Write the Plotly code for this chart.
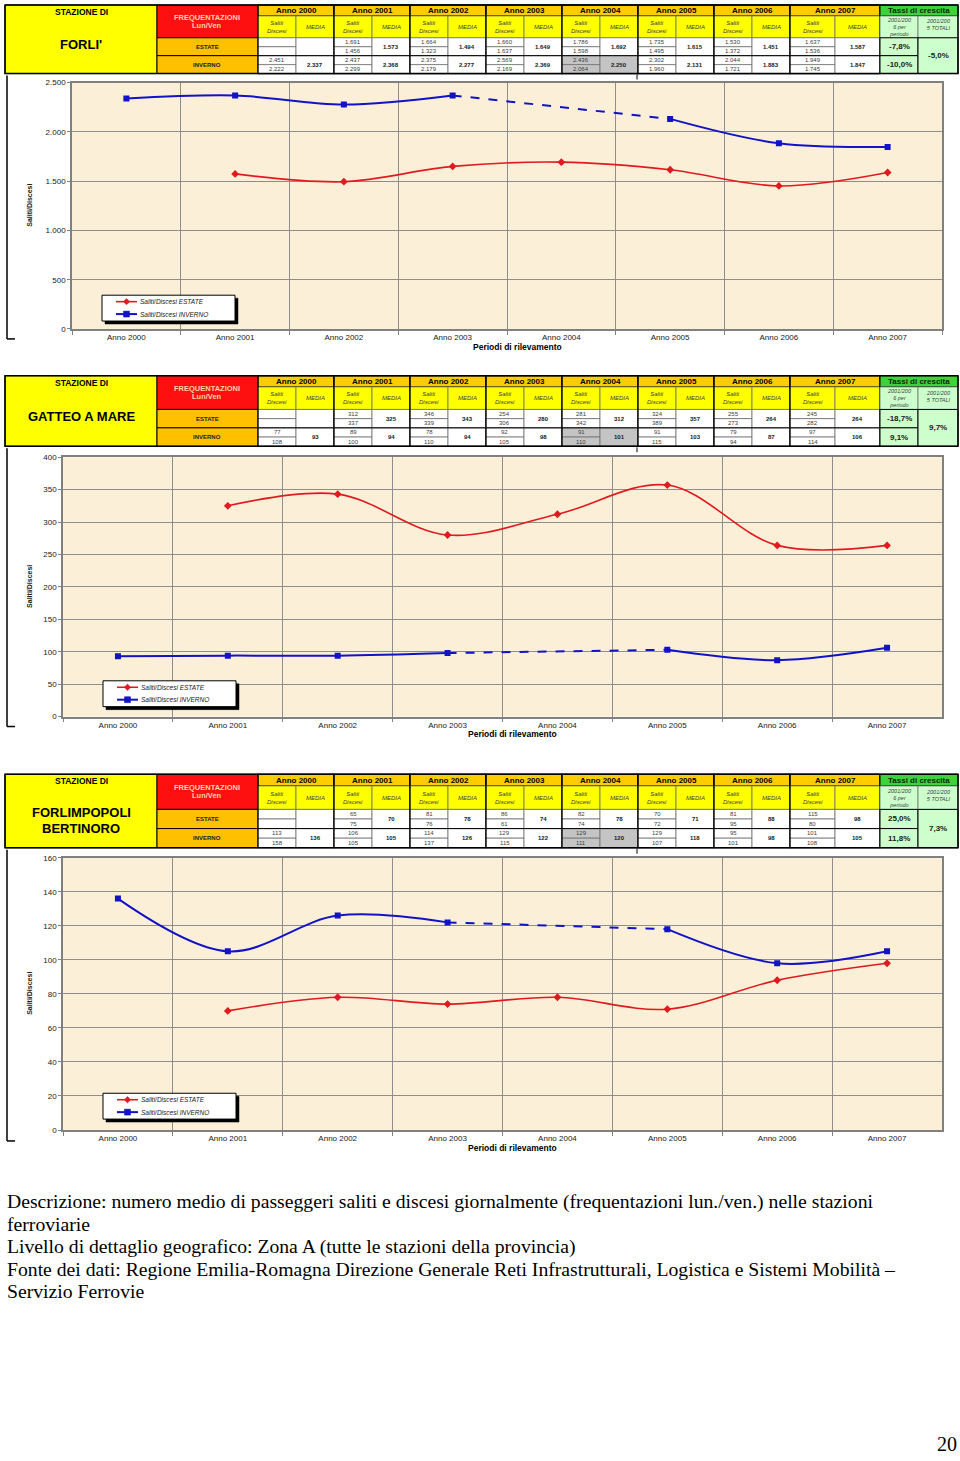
import plotly.graph_objects as go

W, H = 960, 1461
SANS = "Liberation Sans, Arial, sans-serif"
SERIF = "Liberation Serif, Times New Roman, serif"

YEARS = ["Anno 2000", "Anno 2001", "Anno 2002", "Anno 2003",
         "Anno 2004", "Anno 2005", "Anno 2006", "Anno 2007"]
SERIES_NAMES = ["Saliti/Discesi ESTATE", "Saliti/Discesi INVERNO"]
INV_ESCLUSO = "Anno 2004"  # grey cells in the table, left out of the chart

# ---- FORLI' ----
FORLI_EST_1 = [None, 1691, 1664, 1660, 1786, 1735, 1530, 1637]
FORLI_EST_2 = [None, 1456, 1323, 1637, 1598, 1495, 1372, 1536]
FORLI_EST_MEDIA = [None, 1573, 1494, 1649, 1692, 1615, 1451, 1587]
FORLI_INV_1 = [2451, 2437, 2375, 2569, 2436, 2302, 2044, 1949]
FORLI_INV_2 = [2222, 2299, 2179, 2169, 2064, 1960, 1721, 1745]
FORLI_INV_MEDIA = [2337, 2368, 2277, 2369, 2250, 2131, 1883, 1847]
FORLI_TASSI = ["-7,8%", "-10,0%", "-5,0%"]

# ---- GATTEO A MARE ----
GATTEO_EST_1 = [None, 312, 346, 254, 281, 324, 255, 245]
GATTEO_EST_2 = [None, 337, 339, 306, 342, 389, 273, 282]
GATTEO_EST_MEDIA = [None, 325, 343, 280, 312, 357, 264, 264]
GATTEO_INV_1 = [77, 89, 78, 92, 91, 91, 79, 97]
GATTEO_INV_2 = [108, 100, 110, 105, 110, 115, 94, 114]
GATTEO_INV_MEDIA = [93, 94, 94, 98, 101, 103, 87, 106]
GATTEO_TASSI = ["-18,7%", "9,1%", "9,7%"]

# ---- FORLIMPOPOLI BERTINORO ----
FORLIMP_EST_1 = [None, 65, 81, 86, 82, 70, 81, 115]
FORLIMP_EST_2 = [None, 75, 76, 61, 74, 72, 95, 80]
FORLIMP_EST_MEDIA = [None, 70, 78, 74, 78, 71, 88, 98]
FORLIMP_INV_1 = [113, 106, 114, 129, 129, 129, 95, 101]
FORLIMP_INV_2 = [158, 105, 137, 115, 111, 107, 101, 108]
FORLIMP_INV_MEDIA = [136, 105, 126, 122, 120, 118, 98, 105]
FORLIMP_TASSI = ["25,0%", "11,8%", "7,3%"]

DESCRIZIONE = [
    "Descrizione: numero medio di passeggeri saliti e discesi giornalmente (frequentazioni lun./ven.) nelle stazioni",
    "ferroviarie",
    "Livello di dettaglio geografico: Zona A (tutte le stazioni della provincia)",
    "Fonte dei dati: Regione Emilia-Romagna Direzione Generale Reti Infrastrutturali, Logistica e Sistemi Mobilità –",
    "Servizio Ferrovie",
]
PAGE = "20"

RED = "#E2191E"
BLUE = "#1212C6"
PLOT_BG = "#FBEFD8"
GRID = "#8E8E8E"

shapes, annotations = [], []


def X(px):
    return px / W


def Y(py):
    return 1 - py / H


def rect(x0, y0, x1, y1, fill=None, line="black", lw=1, layer="below"):
    shapes.append(dict(type="rect", xref="paper", yref="paper",
                       x0=X(x0), x1=X(x1), y0=Y(y1), y1=Y(y0),
                       fillcolor=fill if fill else "rgba(0,0,0,0)",
                       line=dict(color=line, width=lw), layer=layer))


def seg(x0, y0, x1, y1, color="black", lw=1.5, layer="below"):
    shapes.append(dict(type="line", xref="paper", yref="paper",
                       x0=X(x0), x1=X(x1), y0=Y(y0), y1=Y(y1),
                       line=dict(color=color, width=lw), layer=layer))


def diamond(cx, cy, r, color):
    path = (f"M {X(cx - r)},{Y(cy)} L {X(cx)},{Y(cy - r)} "
            f"L {X(cx + r)},{Y(cy)} L {X(cx)},{Y(cy + r)} Z")
    shapes.append(dict(type="path", xref="paper", yref="paper", path=path,
                       fillcolor=color, line=dict(color=color, width=0.5), layer="above"))


def txt(x, y, s, size=7, bold=False, italic=False, color="black",
        xanchor="center", family=SANS, angle=0):
    annotations.append(dict(x=X(x), y=Y(y), xref="paper", yref="paper", text=s,
                            showarrow=False, xanchor=xanchor, yanchor="middle",
                            textangle=angle, borderpad=0,
                            font=dict(size=size, color=color, family=family,
                                      weight="bold" if bold else "normal",
                                      style="italic" if italic else "normal")))


def fmt(v):
    if v is None:
        return ""
    return f"{v:,}".replace(",", ".")


ROW_OFF = [0, 11, 33, 42, 51, 60, 69]
YEAR_X0, YEAR_W, SUB_W = 258, 76, 38


def draw_table(T, name_lines, e1, e2, em, i1, i2, im, tassi, hgt=69):
    scale = hgt / 69.0
    r = [T + o * scale for o in ROW_OFF]
    # station block
    rect(5, r[0], 157, r[6], fill="#FFFF00", line="black", lw=1)
    txt(81, T + 7, "STAZIONE DI", 8.5, bold=True)
    if len(name_lines) == 1:
        txt(81, T + 40 * scale, name_lines[0], 13, bold=True)
    else:
        txt(81, T + 36 * scale, name_lines[0], 13, bold=True)
        txt(81, T + 51 * scale, name_lines[1], 13, bold=True)
    # frequentazioni
    rect(157, r[0], 258, r[2], fill="#FF1010", line="black")
    txt(207, T + 13, "FREQUENTAZIONI", 7.5, bold=True, color="#FFD2A8")
    txt(207, T + 21, "Lun/Ven", 7.5, bold=True, color="#FFD2A8")
    rect(157, r[2], 258, r[4], fill="#FFC000", line="black")
    txt(207, (r[2] + r[4]) / 2, "ESTATE", 6, bold=True, color="#202020")
    rect(157, r[4], 258, r[6], fill="#FFC000", line="black")
    txt(207, (r[4] + r[6]) / 2, "INVERNO", 6, bold=True, color="#202020")
    # years
    for i, yr in enumerate(YEARS):
        x0 = YEAR_X0 + YEAR_W * i
        last = i == len(YEARS) - 1
        x1 = 880 if last else x0 + YEAR_W
        xm = 835 if last else x0 + SUB_W
        grey = "#C4C4C4" if yr == INV_ESCLUSO else "white"
        rect(x0, r[0], x1, r[1], fill="#FFCC00", line="black")
        txt((x0 + x1) / 2, (r[0] + r[1]) / 2, yr, 8, bold=True)
        rect(x0, r[1], xm, r[2], fill="#FFFF00", line="#707070", lw=0.8)
        rect(xm, r[1], x1, r[2], fill="#FFFF00", line="#707070", lw=0.8)
        txt((x0 + xm) / 2, (r[1] + r[2]) / 2, "Saliti<br>Discesi", 6, italic=True, color="#404040")
        txt((xm + x1) / 2, (r[1] + r[2]) / 2, "MEDIA", 6, italic=True, color="#404040")
        # estate
        rect(x0, r[2], xm, r[3], fill="white", line="#707070", lw=0.8)
        rect(x0, r[3], xm, r[4], fill="white", line="#707070", lw=0.8)
        rect(xm, r[2], x1, r[4], fill="white", line="#707070", lw=0.8)
        txt((x0 + xm) / 2, (r[2] + r[3]) / 2, fmt(e1[i]), 6, color="#404040")
        txt((x0 + xm) / 2, (r[3] + r[4]) / 2, fmt(e2[i]), 6, color="#404040")
        txt((xm + x1) / 2, (r[2] + r[4]) / 2, fmt(em[i]), 6, bold=True, color="#202020")
        # inverno
        rect(x0, r[4], xm, r[5], fill=grey, line="#707070", lw=0.8)
        rect(x0, r[5], xm, r[6], fill=grey, line="#707070", lw=0.8)
        rect(xm, r[4], x1, r[6], fill=grey, line="#707070", lw=0.8)
        txt((x0 + xm) / 2, (r[4] + r[5]) / 2, fmt(i1[i]), 6, color="#404040")
        txt((x0 + xm) / 2, (r[5] + r[6]) / 2, fmt(i2[i]), 6, color="#404040")
        txt((xm + x1) / 2, (r[4] + r[6]) / 2, fmt(im[i]), 6, bold=True, color="#202020")
        rect(x0, r[0], x1, r[6], line="black", lw=1.2)
        seg(x0, r[4], x1, r[4], color="black", lw=1)
    # tassi di crescita
    rect(880, r[0], 958, r[1], fill="#3CD23C", line="black")
    txt(919, (r[0] + r[1]) / 2, "Tassi di crescita", 8, bold=True, color="#0A2A0A")
    rect(880, r[1], 918, r[2], fill="#CCFFCC", line="#707070", lw=0.8)
    rect(918, r[1], 958, r[2], fill="#CCFFCC", line="#707070", lw=0.8)
    txt(899, (r[1] + r[2]) / 2, "2001/200<br>6 per<br>periodo", 5.5, italic=True, color="#404040")
    txt(938, (r[1] + r[2]) / 2 - 2, "2001/200<br>5 TOTALI", 5.5, italic=True, color="#404040")
    rect(880, r[2], 918, r[4], fill="#CCFFCC", line="black", lw=1)
    rect(880, r[4], 918, r[6], fill="#CCFFCC", line="black", lw=1)
    rect(918, r[2], 958, r[6], fill="#CCFFCC", line="black", lw=1)
    txt(899, (r[2] + r[4]) / 2, tassi[0], 8, bold=True, color="#202020")
    txt(899, (r[4] + r[6]) / 2, tassi[1], 8, bold=True, color="#202020")
    txt(938, (r[2] + r[6]) / 2, tassi[2], 8, bold=True, color="#202020")
    rect(5, r[0], 958, r[6], line="black", lw=1.5)


def draw_legend(lx, ly, w=133, h=26):
    # shadow, box, two entries (line + marker + label)
    rect(lx + 3, ly + 3, lx + w + 3, ly + h + 3, fill="black", line="black", lw=0.5, layer="above")
    rect(lx, ly, lx + w, ly + h, fill="white", line="black", lw=1, layer="above")
    e_y = [ly + 6.5, ly + 19]
    seg(lx + 14, e_y[0], lx + 35, e_y[0], color=RED, lw=1.6, layer="above")
    diamond(lx + 24.5, e_y[0], 3.2, RED)
    seg(lx + 14, e_y[1], lx + 35, e_y[1], color=BLUE, lw=2, layer="above")
    rect(lx + 21.5, e_y[1] - 3, lx + 27.5, e_y[1] + 3, fill=BLUE, line=BLUE, lw=0.5, layer="above")
    txt(lx + 37, e_y[0], SERIES_NAMES[0], 6.5, italic=True, color="#202020", xanchor="left")
    txt(lx + 37, e_y[1], SERIES_NAMES[1], 6.5, italic=True, color="#202020", xanchor="left")


STATIONS = [
    dict(top=1, name=["FORLI'"], e1=FORLI_EST_1, e2=FORLI_EST_2, em=FORLI_EST_MEDIA,
         i1=FORLI_INV_1, i2=FORLI_INV_2, im=FORLI_INV_MEDIA, tassi=FORLI_TASSI, hgt=69,
         px=(72, 942), py=(79, 327), yr=(0, 2500), dt=500,
         leg=(102, 293), brk=(72, 337)),
    dict(top=374, name=["GATTEO A MARE"], e1=GATTEO_EST_1, e2=GATTEO_EST_2, em=GATTEO_EST_MEDIA,
         i1=GATTEO_INV_1, i2=GATTEO_INV_2, im=GATTEO_INV_MEDIA, tassi=GATTEO_TASSI, hgt=71,
         px=(63, 942), py=(456, 717), yr=(0, 400), dt=50,
         leg=(103, 681), brk=(447, 727)),
    dict(top=775, name=["FORLIMPOPOLI", "BERTINORO"], e1=FORLIMP_EST_1, e2=FORLIMP_EST_2,
         em=FORLIMP_EST_MEDIA, i1=FORLIMP_INV_1, i2=FORLIMP_INV_2, im=FORLIMP_INV_MEDIA,
         tassi=FORLIMP_TASSI, hgt=74,
         px=(63, 942), py=(859, 1133), yr=(0, 160), dt=20,
         leg=(103, 1096), brk=(851, 1144)),
]

fig = go.Figure()
layout_axes = {}
excl = YEARS.index(INV_ESCLUSO)

for k, st in enumerate(STATIONS, start=1):
    draw_table(st["top"], st["name"], st["e1"], st["e2"], st["em"],
               st["i1"], st["i2"], st["im"], st["tassi"], st["hgt"])
    xa = "x" if k == 1 else f"x{k}"
    ya = "y" if k == 1 else f"y{k}"
    inv_chart = [None if YEARS[i] == INV_ESCLUSO else v for i, v in enumerate(st["im"])]

    fig.add_trace(go.Scatter(
        x=YEARS, y=st["em"], name=SERIES_NAMES[0], mode="lines+markers",
        line=dict(color=RED, width=1.6, shape="spline"),
        marker=dict(symbol="diamond", size=6, color=RED),
        showlegend=False, xaxis=xa, yaxis=ya))
    fig.add_trace(go.Scatter(
        x=YEARS, y=inv_chart, name=SERIES_NAMES[1], mode="lines+markers",
        line=dict(color=BLUE, width=2, shape="spline"),
        marker=dict(symbol="square", size=6, color=BLUE),
        connectgaps=False, showlegend=False, xaxis=xa, yaxis=ya))
    fig.add_trace(go.Scatter(
        x=[YEARS[excl - 1], YEARS[excl + 1]],
        y=[st["im"][excl - 1], st["im"][excl + 1]],
        name=SERIES_NAMES[1], mode="lines", line=dict(color=BLUE, width=2, dash="dash"),
        showlegend=False, xaxis=xa, yaxis=ya, hoverinfo="skip"))

    x0, x1 = st["px"]
    y0, y1 = st["py"]
    axkey = "" if k == 1 else str(k)
    layout_axes["xaxis" + axkey] = dict(
        domain=[X(x0), X(x1)], anchor=ya, type="category",
        categoryorder="array", categoryarray=YEARS, range=[-0.5, 7.5],
        tickson="boundaries", showgrid=True, gridcolor=GRID, gridwidth=1,
        ticks="outside", ticklen=4, tickcolor="#808080",
        showline=True, linecolor="#808080", linewidth=1.5, mirror=True,
        tickfont=dict(size=8, family=SANS, color="#202020"), fixedrange=True)
    layout_axes["yaxis" + axkey] = dict(
        domain=[Y(y1), Y(y0)], anchor=xa, range=list(st["yr"]), dtick=st["dt"],
        tickformat=",d", showgrid=True, gridcolor=GRID, gridwidth=1,
        ticks="outside", ticklen=3, tickcolor="#808080",
        showline=True, linecolor="#808080", linewidth=1.5, mirror=True, zeroline=False,
        tickfont=dict(size=8, family=SANS, color="#202020"), fixedrange=True)

    draw_legend(*st["leg"])

    # axis titles
    txt(30, (y0 + y1) / 2, "Saliti/Discesi", 7, bold=True, color="#202020", angle=-90)
    txt((x0 + x1) / 2 + 10, y1 + 18, "Periodi di rilevamento", 8.5, bold=True)
    # left bracket of the chart frame
    b0, b1 = st["brk"]
    seg(7, b0, 7, b1, lw=1.5)
    seg(7, b1, 15, b1, lw=1.5)
    seg(637, st["top"] + st["hgt"] + 1, 637, st["top"] + st["hgt"] + 6, lw=1)

for j, line in enumerate(DESCRIZIONE):
    txt(6, 1205 + 22.5 * j, line, 19.7, family=SERIF, xanchor="left")
txt(947, 1449, PAGE, 20, family=SERIF)

fig.update_layout(
    width=W, height=H, margin=dict(l=0, r=0, t=0, b=0),
    paper_bgcolor="white", plot_bgcolor=PLOT_BG, separators=",.",
    font=dict(family=SANS), shapes=shapes, annotations=annotations,
    showlegend=False, **layout_axes)

fig.write_html("out.html")
